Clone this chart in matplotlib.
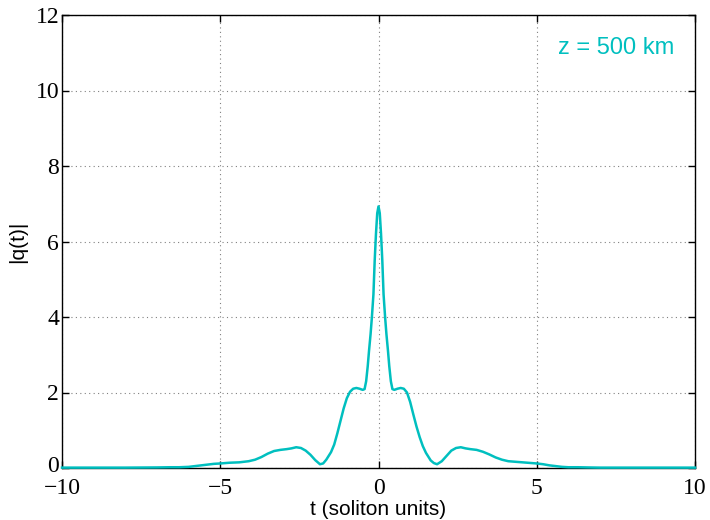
import matplotlib
matplotlib.use("Agg")
import matplotlib.pyplot as plt
import matplotlib.transforms as mtransforms

t_vals = [-10.0, -9.0, -8.0, -7.0, -6.6, -6.3, -6.0, -5.8, -5.6, -5.4, -5.2, -5.0,
          -4.7, -4.4, -4.1, -3.9, -3.7, -3.5, -3.3, -3.1, -2.9, -2.75, -2.6, -2.45,
          -2.3, -2.15, -2.0, -1.85, -1.75, -1.65, -1.5, -1.4, -1.3, -1.2, -1.1,
          -1.0, -0.9, -0.8, -0.7, -0.6, -0.5, -0.44, -0.39, -0.34, -0.3, -0.25,
          -0.21, -0.16, -0.12, -0.08, -0.04, 0.0,
          0.04, 0.08, 0.12, 0.16, 0.21, 0.25, 0.3, 0.34, 0.39, 0.44, 0.5, 0.6,
          0.7, 0.8, 0.9, 1.0, 1.1, 1.2, 1.3, 1.4, 1.5, 1.65, 1.75, 1.85, 2.0,
          2.15, 2.3, 2.45, 2.6, 2.75, 2.9, 3.1, 3.3, 3.5, 3.7, 3.9, 4.1, 4.4,
          4.7, 5.0, 5.2, 5.4, 5.6, 5.8, 6.0, 6.3, 6.6, 7.0, 8.0, 9.0, 10.0]
q_vals = [0.01, 0.01, 0.01, 0.015, 0.02, 0.02, 0.03, 0.05, 0.07, 0.09, 0.11, 0.12,
          0.14, 0.15, 0.18, 0.22, 0.29, 0.38, 0.45, 0.48, 0.50, 0.52, 0.55, 0.53,
          0.46, 0.35, 0.21, 0.10, 0.12, 0.22, 0.42, 0.62, 0.92, 1.25, 1.58,
          1.85, 2.02, 2.10, 2.12, 2.10, 2.07, 2.09, 2.30, 2.70, 3.10, 3.55,
          3.98, 4.60, 5.50, 6.20, 6.75, 6.93,
          6.75, 6.20, 5.50, 4.60, 3.98, 3.55, 3.10, 2.70, 2.30, 2.09, 2.07, 2.10,
          2.12, 2.10, 2.00, 1.75, 1.42, 1.10, 0.82, 0.58, 0.40, 0.20, 0.13, 0.10, 0.18,
          0.32, 0.46, 0.53, 0.55, 0.52, 0.50, 0.48, 0.43, 0.36, 0.28, 0.22, 0.18, 0.16,
          0.14, 0.12, 0.10, 0.07, 0.05, 0.03, 0.02, 0.02, 0.015, 0.01, 0.01, 0.01, 0.01]

x_ticks = [-10, -5, 0, 5, 10]
y_ticks = [0, 2, 4, 6, 8, 10, 12]
x_label = "t (soliton units)"
y_label = "|q(t)|"
annotation = "z = 500 km"
line_color = "#00BFBF"

fig = plt.figure(figsize=(7.1, 5.2), dpi=100)
ax = fig.add_axes([62 / 710, 52 / 520, (695 - 62) / 710, (468 - 15) / 520])

ax.plot(t_vals, q_vals, color=line_color, lw=1.8, zorder=5, clip_on=False)

ax.set_xlim(-10, 10)
ax.set_ylim(0, 12)
ax.set_xticks(x_ticks)
ax.set_yticks(y_ticks)
ax.set_xticklabels(["\u2212" + str(abs(v)) if v < 0 else str(v) for v in x_ticks],
                   family="Liberation Serif", fontsize=17)
ax.set_yticklabels([str(v) for v in y_ticks], family="Liberation Serif", fontsize=17)

ax.tick_params(direction="in", length=5, width=1, top=True, right=True)
ax.tick_params(axis="x", pad=7)
ax.tick_params(axis="y", pad=2)
ax.grid(True, linestyle=(0, (1, 3)), color="#808080", lw=0.8)
for s in ax.spines.values():
    s.set_linewidth(1.0)
    s.set_color("black")

# nudge the bottom y tick label up slightly so it does not collide with the x tick label
lab0 = ax.get_yticklabels()[0]
lab0.set_transform(lab0.get_transform() +
                   mtransforms.ScaledTranslation(0, 3 / 72, fig.dpi_scale_trans))

ax.set_xlabel(x_label, family="Liberation Sans", fontsize=15, labelpad=1)
ax.set_ylabel(y_label, family="Liberation Sans", fontsize=15, labelpad=6)

ax.text(0.968, 0.927, annotation, transform=ax.transAxes, ha="right", va="center",
        color=line_color, family="Liberation Sans", fontsize=17)

fig.savefig("out.png", dpi=100)
